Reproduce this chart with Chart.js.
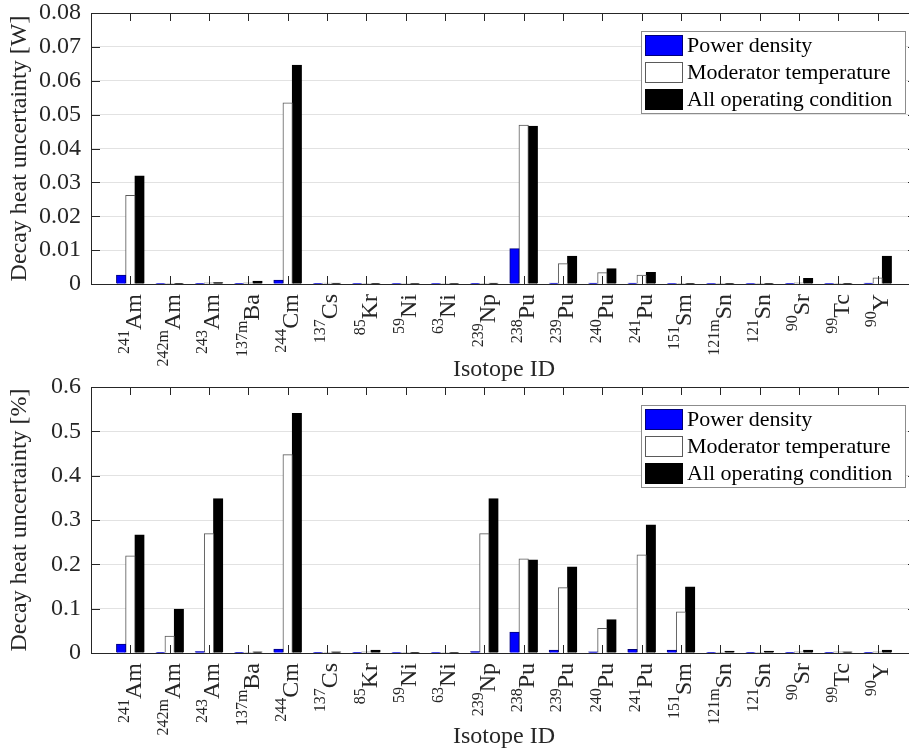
<!DOCTYPE html>
<html>
<head>
<meta charset="utf-8">
<script src="https://cdn.jsdelivr.net/npm/chart.js@4.4.1/dist/chart.umd.min.js"></script>
<style>
    html, body { margin: 0; padding: 0; background: #fff; }
    .page { width: 909px; height: 752px; overflow: hidden; position: relative; }
    canvas { display: block; position: absolute; left: 0; }
    #chartW { top: 0; }
    #chartPct { top: 376px; }
</style>
</head>
<body>
<div class="page">
    <canvas id="chartW" width="925" height="386"></canvas>
    <canvas id="chartPct" width="925" height="376"></canvas>
</div>
<script>
// isotope labels: mass number (superscript) + element
const massNums = ['241', '242m', '243', '137m', '244', '137', '85', '59', '63', '239',
    '238', '239', '240', '241', '151', '121m', '121', '90', '99', '90'];
const elements = ['Am', 'Am', 'Am', 'Ba', 'Cm', 'Cs', 'Kr', 'Ni', 'Ni', 'Np',
    'Pu', 'Pu', 'Pu', 'Pu', 'Sm', 'Sn', 'Sn', 'Sr', 'Tc', 'Y'];

const seriesNames = ['Power density', 'Moderator temperature', 'All operating condition'];
const seriesColors = ['#0000ff', '#ffffff', '#000000'];
const edgeColors = ['#00007a', '#5a5a5a', '#000000'];

// decay heat uncertainty [W]
const powerW = [0.0026, 0.00005, 0.0001, 0.0001, 0.0011, 0.0001, 0.00005, 0.00003, 0.00003, 0.0001,
    0.0104, 0.0002, 0.0002, 0.0002, 0.00005, 0.00005, 0.00005, 0.0001, 0.00005, 0.0002];
const moderatorW = [0.0261, 0.0001, 0.0003, 0.0003, 0.0534, 0.0002, 0.0001, 0.00005, 0.00005, 0.0001,
    0.0469, 0.0060, 0.0033, 0.0026, 0.0001, 0.0001, 0.0001, 0.0003, 0.0001, 0.0018];
const allW = [0.0319, 0.0001, 0.0004, 0.0008, 0.0646, 0.0002, 0.0001, 0.00005, 0.00005, 0.0002,
    0.0466, 0.0082, 0.0045, 0.0034, 0.0001, 0.0001, 0.0001, 0.0016, 0.0001, 0.0082];

// decay heat uncertainty [%]
const powerPct = [0.0196, 0.001, 0.003, 0.001, 0.0083, 0.001, 0.001, 0.0005, 0.0005, 0.003,
    0.0467, 0.006, 0.002, 0.008, 0.006, 0.001, 0.001, 0.001, 0.001, 0.001];
const moderatorPct = [0.219, 0.0376, 0.269, 0.001, 0.447, 0.001, 0.002, 0.001, 0.0005, 0.269,
    0.212, 0.147, 0.055, 0.221, 0.0925, 0.001, 0.001, 0.002, 0.002, 0.002];
const allPct = [0.266, 0.0986, 0.348, 0.002, 0.540, 0.002, 0.006, 0.001, 0.0005, 0.348,
    0.210, 0.194, 0.075, 0.289, 0.149, 0.004, 0.004, 0.006, 0.002, 0.006];

const yTicksW = ['0', '0.01', '0.02', '0.03', '0.04', '0.05', '0.06', '0.07', '0.08'];
const yTicksPct = ['0', '0.1', '0.2', '0.3', '0.4', '0.5', '0.6'];

const axisColor = '#262626';
const serif = "'Liberation Serif', 'Times New Roman', serif";
Chart.defaults.font.family = serif;
Chart.defaults.color = axisColor;

// box around the axes with inward tick marks (like a matlab axes)
const axesBox = {
    id: 'axesBox',
    afterDatasetsDraw(chart) {
        const ctx = chart.ctx;
        const { left, right, top, bottom } = chart.chartArea;
        const xs = chart.scales.x, ys = chart.scales.y;
        ctx.save();
        ctx.strokeStyle = axisColor;
        ctx.lineWidth = 1;
        ctx.beginPath();
        ctx.rect(left + 0.5, top + 0.5, right - left - 1, bottom - top);
        elements.forEach((el, i) => {
            const x = Math.round(xs.getPixelForValue(i + 1)) + 0.5;
            ctx.moveTo(x, bottom);
            ctx.lineTo(x, bottom - 8);
            ctx.moveTo(x, top);
            ctx.lineTo(x, top + 8);
        });
        ys.ticks.forEach(t => {
            const y = Math.round(ys.getPixelForValue(t.value)) + 0.5;
            ctx.moveTo(left, y);
            ctx.lineTo(left + 9, y);
            ctx.moveTo(right, y);
            ctx.lineTo(right - 9, y);
        });
        ctx.stroke();
        ctx.restore();
    },
    afterDraw(chart, args, opts) {
        const ctx = chart.ctx;
        const { left, right, top, bottom } = chart.chartArea;
        const xs = chart.scales.x;
        ctx.save();
        ctx.fillStyle = axisColor;
        ctx.textBaseline = 'middle';
        // rotated isotope labels with superscript mass numbers
        elements.forEach((el, i) => {
            const x = xs.getPixelForValue(i + 1);
            ctx.save();
            ctx.translate(x, bottom + 10);
            ctx.rotate(-Math.PI / 2);
            ctx.font = '16px ' + serif;
            const supW = ctx.measureText(massNums[i]).width;
            ctx.font = '24px ' + serif;
            const elW = ctx.measureText(el).width;
            ctx.textAlign = 'left';
            ctx.fillText(el, -elW, 4);
            ctx.font = '16px ' + serif;
            ctx.fillText(massNums[i], -elW - supW, -6);
            ctx.restore();
        });
        ctx.font = '24px ' + serif;
        ctx.textAlign = 'center';
        ctx.textBaseline = 'alphabetic';
        ctx.fillText('Isotope ID', (left + right) / 2, opts.titleY);

        // legend in the upper right corner
        const bx = right - 276, by = top + 18, bw = 264, bh = 82;
        ctx.fillStyle = '#fff';
        ctx.fillRect(bx, by, bw, bh);
        ctx.strokeStyle = '#8c8c8c';
        ctx.lineWidth = 1;
        ctx.strokeRect(bx + 0.5, by + 0.5, bw, bh);
        ctx.font = '22px ' + serif;
        ctx.textAlign = 'left';
        ctx.textBaseline = 'middle';
        seriesNames.forEach((name, k) => {
            const cy = by + 14 + k * 27;
            ctx.fillStyle = seriesColors[k];
            ctx.fillRect(bx + 4, cy - 10, 38, 21);
            ctx.strokeStyle = edgeColors[k];
            ctx.strokeRect(bx + 4.5, cy - 9.5, 37, 20);
            ctx.fillStyle = '#000';
            ctx.fillText(name, bx + 46, cy + 1);
        });
        ctx.restore();
    }
};

function makeChart(id, series, yMax, yStep, yTickLabels, yTitle, padTop, xAxisH, titleY) {
    const ctx = document.getElementById(id).getContext('2d');
    return new Chart(ctx, {
        type: 'bar',
        data: {
            datasets: series.map((vals, k) => ({
                label: seriesNames[k],
                data: vals.map((v, i) => ({ x: i + 1, y: v })),
                backgroundColor: seriesColors[k],
                borderColor: edgeColors[k],
                borderWidth: 1,
                inflateAmount: 0.5,
                categoryPercentage: 0.7,
                barPercentage: 1.0
            }))
        },
        options: {
            responsive: false,
            animation: false,
            devicePixelRatio: 1,
            layout: { padding: { top: padTop, right: 8, left: 0, bottom: 0 } },
            plugins: {
                legend: { display: false },
                tooltip: { enabled: false },
                axesBox: { titleY: titleY }
            },
            scales: {
                x: {
                    type: 'linear',
                    min: 0,
                    max: 21,
                    offset: false,
                    grid: { display: false, offset: false },
                    border: { display: false },
                    ticks: { display: false },
                    afterFit: s => {
                        s.height = xAxisH;
                        s.paddingLeft = 0;
                        s.paddingRight = 0;
                    }
                },
                y: {
                    min: 0,
                    max: yMax,
                    ticks: {
                        stepSize: yStep,
                        padding: 10,
                        font: { size: 24 },
                        color: axisColor,
                        callback: (v, i) => yTickLabels[i]
                    },
                    grid: { color: '#e2e2e2', drawTicks: false },
                    border: { display: false },
                    title: {
                        display: true,
                        text: yTitle,
                        font: { size: 24 },
                        color: axisColor,
                        padding: { top: 5, bottom: 0 }
                    },
                    afterFit: s => {
                        s.width = 91;
                        s.paddingTop = 0;
                        s.paddingBottom = 0;
                    }
                }
            }
        },
        plugins: [axesBox]
    });
}

makeChart('chartW', [powerW, moderatorW, allW], 0.08, 0.01, yTicksW,
    'Decay heat uncertainty [W]', 13, 102, 376);
makeChart('chartPct', [powerPct, moderatorPct, allPct], 0.6, 0.1, yTicksPct,
    'Decay heat uncertainty [%]', 11, 99, 367);
</script>
</body>
</html>
